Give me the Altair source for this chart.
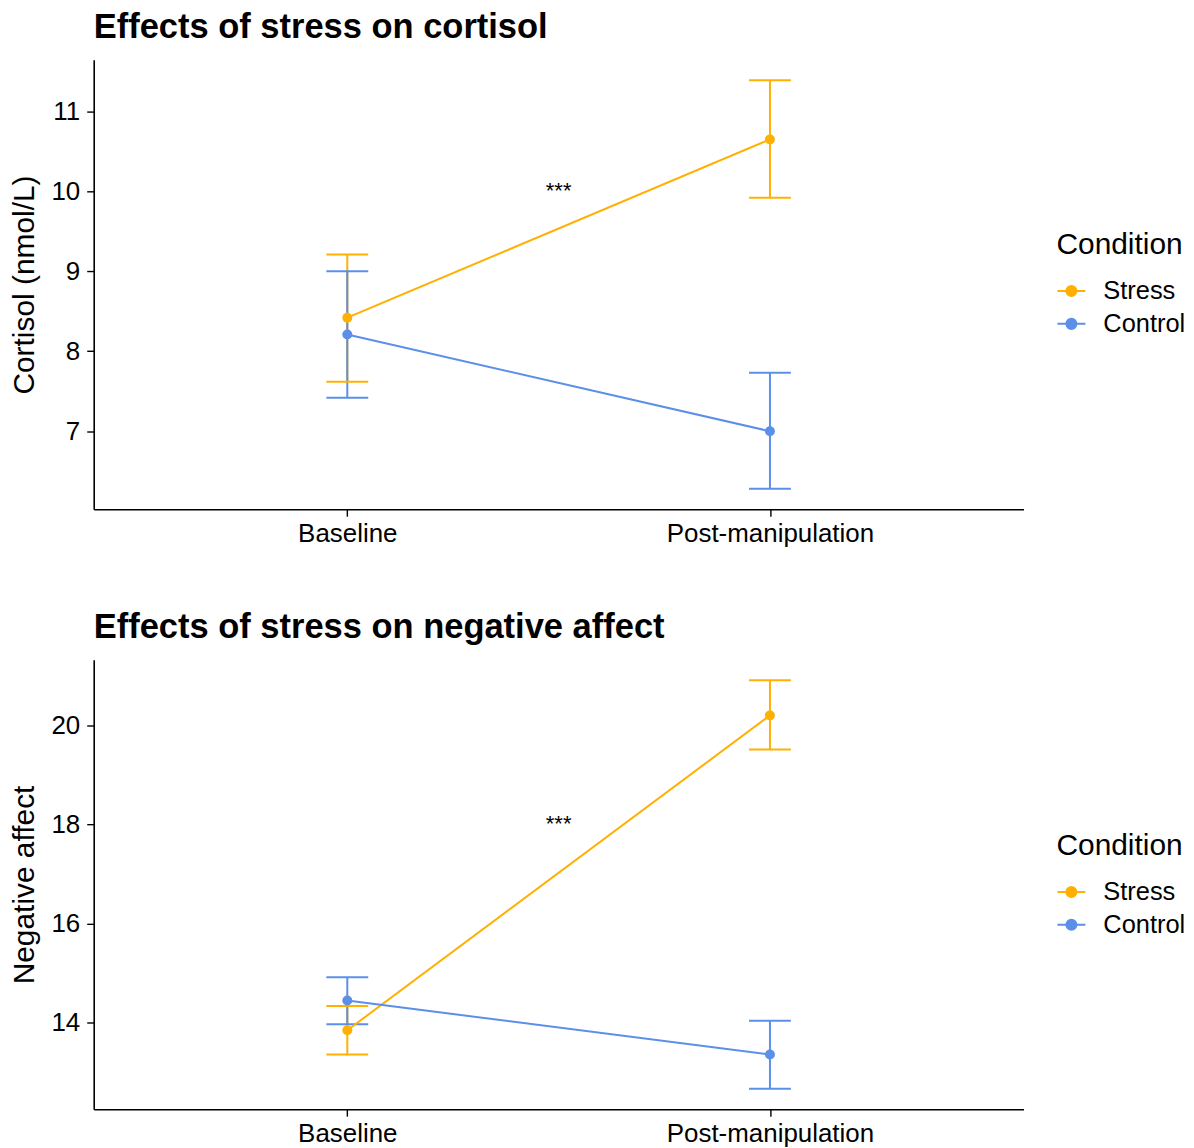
import altair as alt
import pandas as pd

timepoints = ["Baseline", "Post-manipulation"]
conditions = ["Stress", "Control"]
colors = ["#FFB000", "#5B8FE8"]

# Cortisol (nmol/L)
cort_stress_mean = [8.42, 10.65]
cort_stress_lo = [7.62, 9.92]
cort_stress_hi = [9.21, 11.39]
cort_control_mean = [8.21, 7.00]
cort_control_lo = [7.42, 6.28]
cort_control_hi = [9.00, 7.73]

# Negative affect
na_stress_mean = [13.85, 20.20]
na_stress_lo = [13.36, 19.51]
na_stress_hi = [14.34, 20.91]
na_control_mean = [14.45, 13.36]
na_control_lo = [13.97, 12.67]
na_control_hi = [14.92, 14.04]

cort_ticks = [7, 8, 9, 10, 11]
na_ticks = [14, 16, 18, 20]
sig_label = "***"
cort_sig_y = 10.0
na_sig_y = 18.0

FONT = "Liberation Sans"


def make_df(sm, sl, sh, cm, cl, ch):
    rows = []
    for cond, m, lo, hi in [("Stress", sm, sl, sh), ("Control", cm, cl, ch)]:
        for i, t in enumerate(timepoints):
            rows.append({"Condition": cond, "Time": t, "t": i + 1,
                         "mean": m[i], "lo": lo[i], "hi": hi[i]})
    return pd.DataFrame(rows)


label_expr = " : ".join(
    [f"datum.value == {i + 1} ? '{t}'" for i, t in enumerate(timepoints[:-1])]
) + f" : '{timepoints[-1]}'"

legend_symbol = ("M-1,0H1M0.36,0A0.36,0.36 0 1,1 -0.36,0"
                 "A0.36,0.36 0 1,1 0.36,0Z")


def panel(df, title, ytitle, ticks, sig_y, legend_y):
    data_min = df["lo"].min()
    data_max = df["hi"].max()
    pad = (data_max - data_min) * 0.05
    ydom = [data_min - pad, data_max + pad]

    x = alt.X("t:Q",
              scale=alt.Scale(domain=[0.4, 2.6], nice=False, zero=False),
              axis=alt.Axis(values=[1, 2], labelExpr=label_expr, title=None,
                            grid=False, labelLimit=500))
    yscale = alt.Scale(domain=ydom, nice=False, zero=False)
    y = alt.Y("mean:Q", scale=yscale,
              axis=alt.Axis(values=ticks, title=ytitle, grid=False,
                            format="d"))
    color = alt.Color(
        "Condition:N",
        scale=alt.Scale(domain=conditions, range=colors),
        legend=alt.Legend(
            title="Condition", orient="none", legendX=966, legendY=legend_y,
            symbolType=legend_symbol, symbolSize=784, symbolStrokeWidth=2,
            titleFontSize=30, labelFontSize=25.5, titleFont=FONT,
            labelFont=FONT, titleFontWeight="normal", titleColor="black",
            labelColor="black", titlePadding=16, rowPadding=4,
            labelOffset=17, symbolOpacity=1,
        ),
    )
    base = alt.Chart(df)
    line = base.mark_line(strokeWidth=2).encode(x=x, y=y, color=color)
    pts = base.mark_point(filled=True, size=100, opacity=1).encode(
        x=x, y=y, color=color)
    rule = base.mark_rule(strokeWidth=2, opacity=1).encode(
        x=x, y=alt.Y("lo:Q", scale=yscale), y2="hi:Q", color=color)
    cap_lo = base.mark_tick(size=42, thickness=2, orient="horizontal",
                            opacity=1).encode(
        x=x, y=alt.Y("lo:Q", scale=yscale), color=color)
    cap_hi = base.mark_tick(size=42, thickness=2, orient="horizontal",
                            opacity=1).encode(
        x=x, y=alt.Y("hi:Q", scale=yscale), color=color)
    sig_df = pd.DataFrame({"t": [sum(range(1, len(timepoints) + 1)) / len(timepoints)],
                           "y": [sig_y], "label": [sig_label]})
    sig = alt.Chart(sig_df).mark_text(
        fontSize=22, font=FONT, color="black", baseline="middle").encode(
        x=alt.X("t:Q"), y=alt.Y("y:Q", scale=yscale), text="label:N")
    return alt.layer(rule, cap_lo, cap_hi, line, pts, sig).properties(
        width=933, height=451,
        title=alt.TitleParams(title, anchor="start", fontSize=34.6,
                              font=FONT, fontWeight="bold", color="black",
                              offset=14, frame="group"),
    )


top = panel(make_df(cort_stress_mean, cort_stress_lo, cort_stress_hi,
                    cort_control_mean, cort_control_lo, cort_control_hi),
            "Effects of stress on cortisol", "Cortisol (nmol/L)",
            cort_ticks, cort_sig_y, 171)
bottom = panel(make_df(na_stress_mean, na_stress_lo, na_stress_hi,
                       na_control_mean, na_control_lo, na_control_hi),
               "Effects of stress on negative affect", "Negative affect",
               na_ticks, na_sig_y, 172)

chart = alt.vconcat(top, bottom, spacing=64).resolve_scale(
    color="independent").resolve_legend(color="independent").properties(
    padding={"left": 2, "top": 0, "right": 0, "bottom": 5}
).configure_view(stroke=None).configure_axis(
    domainColor="black", domainWidth=1.6, tickColor="black", tickWidth=1.4,
    tickSize=7, labelFont=FONT, titleFont=FONT, labelFontSize=26,
    titleFontSize=30, labelColor="black", titleColor="black",
    titleFontWeight="normal", labelPadding=4,
).configure_axisY(labelPadding=7, titlePadding=11)

chart.save("out.html", embed_options={"renderer": "svg", "actions": False})
